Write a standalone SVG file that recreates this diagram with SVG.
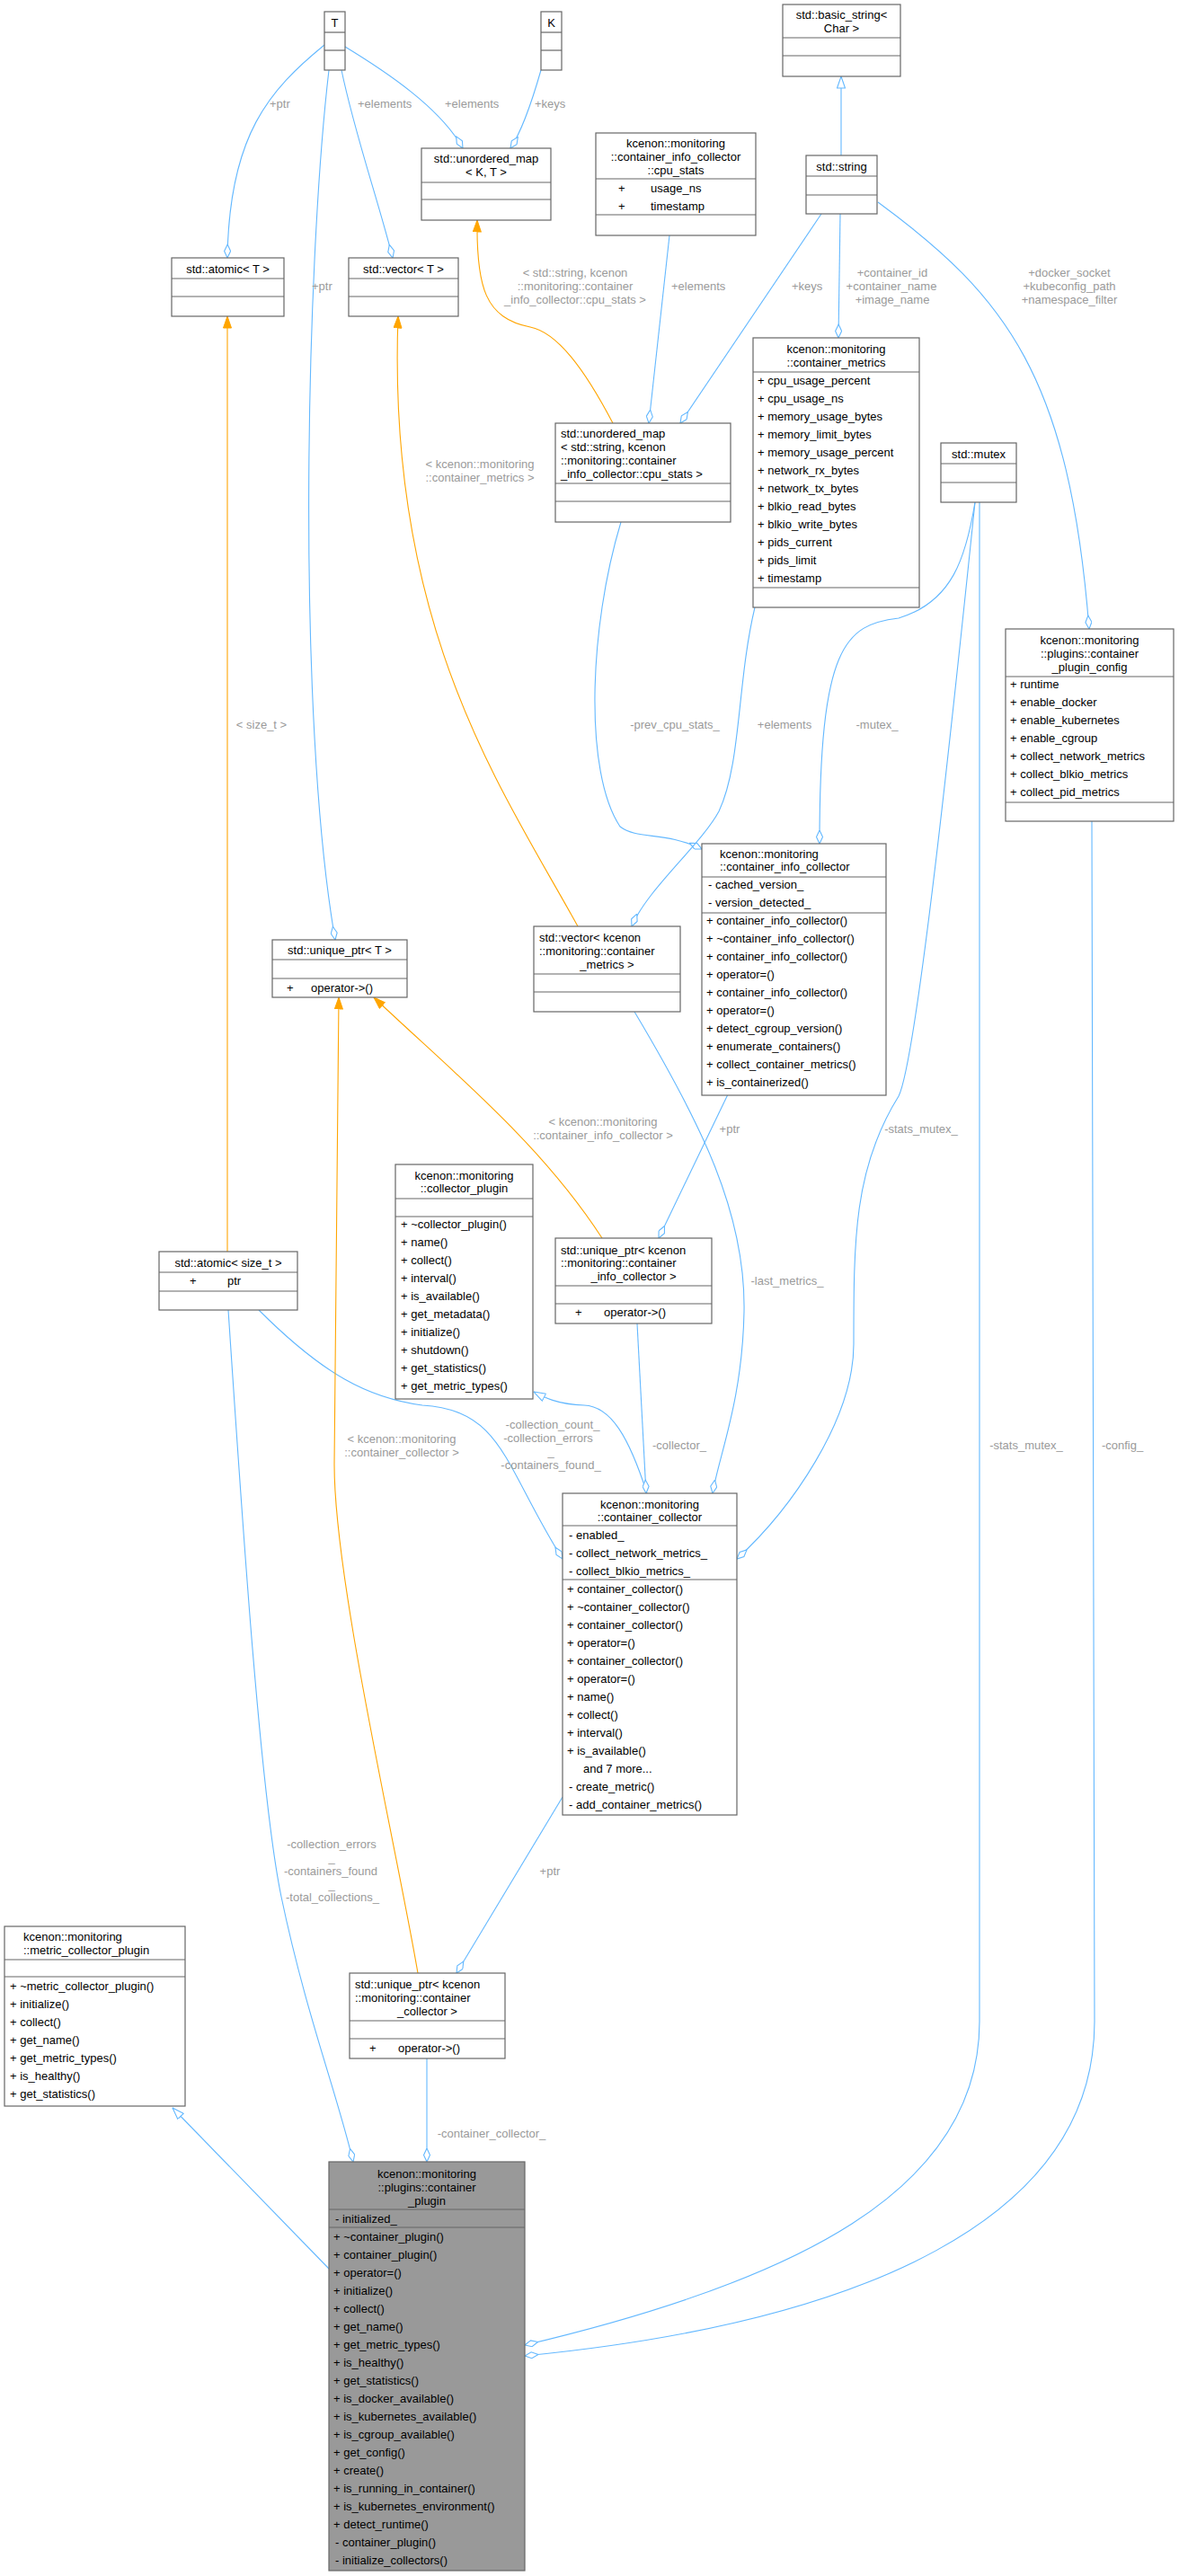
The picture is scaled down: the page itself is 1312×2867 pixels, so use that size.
<svg xmlns="http://www.w3.org/2000/svg" width="1312" height="2867" viewBox="0 0 1312 2867">
<style>
.n rect{fill:#fff;stroke:#666;stroke-width:1.2}
.n line{stroke:#666;stroke-width:1.2}
.n text{font-family:"Liberation Sans",Arial,sans-serif;font-size:13px;fill:#000}
.c{text-anchor:middle}
.e{fill:none;stroke:#63b8ff;stroke-width:1.1}
.o{fill:none;stroke:#ffa500;stroke-width:1.1}
.l{font-family:"Liberation Sans",Arial,sans-serif;font-size:13px;fill:#9a9a9a}
</style>
<defs>
<marker id="dia" viewBox="0 0 16 8" refX="15.5" refY="4" markerWidth="16" markerHeight="8" markerUnits="userSpaceOnUse" orient="auto"><path d="M0.5,4 L8,0.5 L15.5,4 L8,7.5 Z" fill="#fff" stroke="#63b8ff" stroke-width="1.1"/></marker>
<marker id="inh" viewBox="0 0 14 10" refX="13.5" refY="5" markerWidth="14" markerHeight="10" markerUnits="userSpaceOnUse" orient="auto"><path d="M0.5,0.5 L13.5,5 L0.5,9.5 Z" fill="#fff" stroke="#63b8ff" stroke-width="1.1"/></marker>
<marker id="tpl" viewBox="0 0 14 10" refX="13.5" refY="5" markerWidth="14" markerHeight="10" markerUnits="userSpaceOnUse" orient="auto"><path d="M0.5,0.5 L13.5,5 L0.5,9.5 Z" fill="#ffa500" stroke="#ffa500"/></marker>
</defs>
<g id="edges">
<path class="e" d="M361,50 C300,100 255,150 253,287" marker-end="url(#dia)"/>
<text class="l" x="300" y="120">+ptr</text>
<path class="e" d="M366,78 C340,300 330,800 373,1046" marker-end="url(#dia)"/>
<text class="l" x="347" y="323">+ptr</text>
<path class="e" d="M380,78 C395,150 420,220 437,287" marker-end="url(#dia)"/>
<text class="l" x="398" y="120">+elements</text>
<path class="e" d="M384,52 C430,80 490,120 515,165" marker-end="url(#dia)"/>
<text class="l" x="495" y="120">+elements</text>
<path class="e" d="M602,78 C590,120 578,150 568,165" marker-end="url(#dia)"/>
<text class="l" x="595" y="120">+keys</text>
<path class="e" d="M936,173 L936,85" marker-end="url(#inh)"/>
<path class="e" d="M745,262 L722,471" marker-end="url(#dia)"/>
<text class="l" x="747" y="323">+elements</text>
<path class="e" d="M914,238 L757,471" marker-end="url(#dia)"/>
<text class="l" x="881" y="323">+keys</text>
<path class="e" d="M935,238 L933,376" marker-end="url(#dia)"/>
<text class="l" x="993" y="308" text-anchor="middle">+container_id</text>
<text class="l" x="992" y="323" text-anchor="middle">+container_name</text>
<text class="l" x="993" y="338" text-anchor="middle">+image_name</text>
<path class="e" d="M977,225 C1120,330 1190,420 1212,700" marker-end="url(#dia)"/>
<text class="l" x="1190" y="308" text-anchor="middle">+docker_socket</text>
<text class="l" x="1190" y="323" text-anchor="middle">+kubeconfig_path</text>
<text class="l" x="1190" y="338" text-anchor="middle">+namespace_filter</text>
<path class="o" d="M682,471 C650,410 620,370 590,364 C540,354 530,320 531,245" marker-end="url(#tpl)"/>
<text class="l" x="640" y="308" text-anchor="middle">&lt; std::string, kcenon</text>
<text class="l" x="640" y="323" text-anchor="middle">::monitoring::container</text>
<text class="l" x="640" y="338" text-anchor="middle">_info_collector::cpu_stats &gt;</text>
<path class="o" d="M643,1031 C560,880 430,700 443,352" marker-end="url(#tpl)"/>
<text class="l" x="534" y="521" text-anchor="middle">&lt; kcenon::monitoring</text>
<text class="l" x="534" y="536" text-anchor="middle">::container_metrics &gt;</text>
<path class="o" d="M253,1393 L253,352" marker-end="url(#tpl)"/>
<text class="l" x="291" y="811" text-anchor="middle">&lt; size_t &gt;</text>
<path class="e" d="M691,581 C655,700 650,860 690,920 C710,935 740,925 781,945" marker-end="url(#dia)"/>
<text class="l" x="751" y="811" text-anchor="middle">-prev_cpu_stats_</text>
<path class="e" d="M840,676 C820,760 825,850 800,903 C780,940 720,990 703,1031" marker-end="url(#dia)"/>
<text class="l" x="873" y="811" text-anchor="middle">+elements</text>
<path class="e" d="M1085,559 C1075,620 1060,670 1000,688 C940,695 912,720 912,939" marker-end="url(#dia)"/>
<text class="l" x="976" y="811" text-anchor="middle">-mutex_</text>
<path class="e" d="M810,1218 L733,1378" marker-end="url(#dia)"/>
<text class="l" x="812" y="1261" text-anchor="middle">+ptr</text>
<path class="o" d="M670,1378 C600,1270 500,1190 416,1110" marker-end="url(#tpl)"/>
<text class="l" x="671" y="1253" text-anchor="middle">&lt; kcenon::monitoring</text>
<text class="l" x="671" y="1268" text-anchor="middle">::container_info_collector &gt;</text>
<path class="e" d="M706,1126 C780,1250 830,1350 828,1460 C826,1560 800,1620 793,1662" marker-end="url(#dia)"/>
<text class="l" x="876" y="1430" text-anchor="middle">-last_metrics_</text>
<path class="e" d="M1085,559 C1060,800 1020,1180 1000,1220 C950,1300 950,1380 950,1496 C950,1580 880,1680 820,1735" marker-end="url(#dia)"/>
<text class="l" x="1025" y="1261" text-anchor="middle">-stats_mutex_</text>
<path class="e" d="M720,1662 C700,1600 680,1565 650,1564 C620,1563 605,1555 594,1549" marker-end="url(#inh)"/>
<path class="e" d="M709,1473 L719,1662" marker-end="url(#dia)"/>
<text class="l" x="756" y="1613" text-anchor="middle">-collector_</text>
<path class="e" d="M288,1458 C360,1530 410,1556 470,1564 C560,1570 560,1630 626,1735" marker-end="url(#dia)"/>
<text class="l" x="615" y="1590" text-anchor="middle">-collection_count_</text>
<text class="l" x="610" y="1605" text-anchor="middle">-collection_errors</text>
<text class="l" x="613" y="1620" text-anchor="middle">_</text>
<text class="l" x="613" y="1635" text-anchor="middle">-containers_found_</text>
<path class="e" d="M1090,559 L1090,2250 C1090,2440 880,2540 584,2610" marker-end="url(#dia)"/>
<text class="l" x="1142" y="1613" text-anchor="middle">-stats_mutex_</text>
<path class="e" d="M1215,914 L1218,2250 C1218,2470 960,2585 584,2622" marker-end="url(#dia)"/>
<text class="l" x="1249" y="1613" text-anchor="middle">-config_</text>
<path class="e" d="M626,2000 L508,2196" marker-end="url(#dia)"/>
<text class="l" x="612" y="2087" text-anchor="middle">+ptr</text>
<path class="o" d="M465,2196 C440,2050 372,1760 372,1630 L377,1110" marker-end="url(#tpl)"/>
<text class="l" x="447" y="1606" text-anchor="middle">&lt; kcenon::monitoring</text>
<text class="l" x="447" y="1621" text-anchor="middle">::container_collector &gt;</text>
<path class="e" d="M254,1458 C270,1700 290,2000 313,2111 C340,2240 375,2330 393,2406" marker-end="url(#dia)"/>
<text class="l" x="369" y="2057" text-anchor="middle">-collection_errors</text>
<text class="l" x="369" y="2072" text-anchor="middle">_</text>
<text class="l" x="368" y="2087" text-anchor="middle">-containers_found</text>
<text class="l" x="369" y="2102" text-anchor="middle">_</text>
<text class="l" x="370" y="2116" text-anchor="middle">-total_collections_</text>
<path class="e" d="M475,2291 L475,2406" marker-end="url(#dia)"/>
<text class="l" x="547" y="2379" text-anchor="middle">-container_collector_</text>
<path class="e" d="M366,2525 L192,2346" marker-end="url(#inh)"/>
</g>
<g id="T" class="n"><rect x="361" y="13" width="23" height="65"/><line x1="361" y1="36" x2="384" y2="36"/><line x1="361" y1="56" x2="384" y2="56"/><text class="c" x="372.5" y="30">T</text></g>
<g id="K" class="n"><rect x="602" y="13" width="23" height="65"/><line x1="602" y1="36" x2="625" y2="36"/><line x1="602" y1="56" x2="625" y2="56"/><text class="c" x="613.5" y="30">K</text></g>
<g id="basic_string" class="n"><rect x="871" y="5" width="131" height="80"/><line x1="871" y1="42" x2="1002" y2="42"/><line x1="871" y1="62" x2="1002" y2="62"/><text class="c" x="936.5" y="21">std::basic_string&lt;</text><text class="c" x="936.5" y="36">Char &gt;</text></g>
<g id="umap_KT" class="n"><rect x="469" y="165" width="144" height="80"/><line x1="469" y1="203" x2="613" y2="203"/><line x1="469" y1="222" x2="613" y2="222"/><text class="c" x="541" y="181">std::unordered_map</text><text class="c" x="541" y="196">&lt; K, T &gt;</text></g>
<g id="cpu_stats" class="n"><rect x="663" y="148" width="178" height="114"/><line x1="663" y1="199" x2="841" y2="199"/><line x1="663" y1="239" x2="841" y2="239"/><text class="c" x="752" y="164">kcenon::monitoring</text><text class="c" x="752" y="179">::container_info_collector</text><text class="c" x="752" y="194">::cpu_stats</text><text x="688" y="214">+</text><text x="724" y="214">usage_ns</text><text x="688" y="234">+</text><text x="724" y="234">timestamp</text></g>
<g id="string" class="n"><rect x="897" y="173" width="79" height="65"/><line x1="897" y1="196" x2="976" y2="196"/><line x1="897" y1="217" x2="976" y2="217"/><text class="c" x="936.5" y="190">std::string</text></g>
<g id="atomic_T" class="n"><rect x="191" y="287" width="125" height="65"/><line x1="191" y1="310" x2="316" y2="310"/><line x1="191" y1="330" x2="316" y2="330"/><text class="c" x="253.5" y="304">std::atomic&lt; T &gt;</text></g>
<g id="vector_T" class="n"><rect x="388" y="287" width="122" height="65"/><line x1="388" y1="310" x2="510" y2="310"/><line x1="388" y1="330" x2="510" y2="330"/><text class="c" x="449" y="304">std::vector&lt; T &gt;</text></g>
<g id="umap_str" class="n"><rect x="618" y="471" width="195" height="110"/><line x1="618" y1="538" x2="813" y2="538"/><line x1="618" y1="558" x2="813" y2="558"/><text x="624" y="487">std::unordered_map</text><text x="624" y="502">&lt; std::string, kcenon</text><text x="624" y="517">::monitoring::container</text><text x="624" y="532">_info_collector::cpu_stats &gt;</text></g>
<g id="container_metrics" class="n"><rect x="838" y="376" width="185" height="300"/><line x1="838" y1="414" x2="1023" y2="414"/><line x1="838" y1="654" x2="1023" y2="654"/><text class="c" x="930.5" y="393">kcenon::monitoring</text><text class="c" x="930.5" y="408">::container_metrics</text>
<text x="843" y="428">+  cpu_usage_percent</text><text x="843" y="448">+  cpu_usage_ns</text><text x="843" y="468">+  memory_usage_bytes</text><text x="843" y="488">+  memory_limit_bytes</text><text x="843" y="508">+  memory_usage_percent</text><text x="843" y="528">+  network_rx_bytes</text><text x="843" y="548">+  network_tx_bytes</text><text x="843" y="568">+  blkio_read_bytes</text><text x="843" y="588">+  blkio_write_bytes</text><text x="843" y="608">+  pids_current</text><text x="843" y="628">+  pids_limit</text><text x="843" y="648">+  timestamp</text></g>
<g id="mutex" class="n"><rect x="1047" y="493" width="84" height="66"/><line x1="1047" y1="516" x2="1131" y2="516"/><line x1="1047" y1="537" x2="1131" y2="537"/><text class="c" x="1089" y="510">std::mutex</text></g>
<g id="plugin_config" class="n"><rect x="1119" y="700" width="187" height="214"/><line x1="1119" y1="753" x2="1306" y2="753"/><line x1="1119" y1="893" x2="1306" y2="893"/><text class="c" x="1212.5" y="717">kcenon::monitoring</text><text class="c" x="1212.5" y="732">::plugins::container</text><text class="c" x="1212.5" y="747">_plugin_config</text>
<text x="1124" y="766">+  runtime</text><text x="1124" y="786">+  enable_docker</text><text x="1124" y="806">+  enable_kubernetes</text><text x="1124" y="826">+  enable_cgroup</text><text x="1124" y="846">+  collect_network_metrics</text><text x="1124" y="866">+  collect_blkio_metrics</text><text x="1124" y="886">+  collect_pid_metrics</text></g>
<g id="container_info_collector" class="n"><rect x="781" y="939" width="205" height="280"/><line x1="781" y1="976" x2="986" y2="976"/><line x1="781" y1="1016" x2="986" y2="1016"/><text x="801" y="955">kcenon::monitoring</text><text x="801" y="969">::container_info_collector</text>
<text x="788" y="989">-   cached_version_</text><text x="788" y="1009">-   version_detected_</text>
<text x="786" y="1029">+  container_info_collector()</text><text x="786" y="1049">+  ~container_info_collector()</text><text x="786" y="1069">+  container_info_collector()</text><text x="786" y="1089">+  operator=()</text><text x="786" y="1109">+  container_info_collector()</text><text x="786" y="1129">+  operator=()</text><text x="786" y="1149">+  detect_cgroup_version()</text><text x="786" y="1169">+  enumerate_containers()</text><text x="786" y="1189">+  collect_container_metrics()</text><text x="786" y="1209">+  is_containerized()</text></g>
<g id="unique_ptr_T" class="n"><rect x="303" y="1046" width="150" height="64"/><line x1="303" y1="1068" x2="453" y2="1068"/><line x1="303" y1="1089" x2="453" y2="1089"/><text class="c" x="378" y="1062">std::unique_ptr&lt; T &gt;</text><text x="319" y="1104">+</text><text x="346" y="1104">operator-&gt;()</text></g>
<g id="vector_metrics" class="n"><rect x="594" y="1031" width="163" height="95"/><line x1="594" y1="1084" x2="757" y2="1084"/><line x1="594" y1="1104" x2="757" y2="1104"/><text x="600" y="1048">std::vector&lt; kcenon</text><text x="600" y="1063">::monitoring::container</text><text class="c" x="675.5" y="1078">_metrics &gt;</text></g>
<g id="collector_plugin" class="n"><rect x="440" y="1296" width="153" height="261"/><line x1="440" y1="1334" x2="593" y2="1334"/><line x1="440" y1="1354" x2="593" y2="1354"/><text class="c" x="516.5" y="1313">kcenon::monitoring</text><text class="c" x="516.5" y="1327">::collector_plugin</text>
<text x="446" y="1367">+  ~collector_plugin()</text><text x="446" y="1387">+  name()</text><text x="446" y="1407">+  collect()</text><text x="446" y="1427">+  interval()</text><text x="446" y="1447">+  is_available()</text><text x="446" y="1467">+  get_metadata()</text><text x="446" y="1487">+  initialize()</text><text x="446" y="1507">+  shutdown()</text><text x="446" y="1527">+  get_statistics()</text><text x="446" y="1547">+  get_metric_types()</text></g>
<g id="unique_ptr_info" class="n"><rect x="618" y="1378" width="174" height="95"/><line x1="618" y1="1431" x2="792" y2="1431"/><line x1="618" y1="1451" x2="792" y2="1451"/><text x="624" y="1396">std::unique_ptr&lt; kcenon</text><text x="624" y="1410">::monitoring::container</text><text class="c" x="705" y="1425">_info_collector &gt;</text><text x="640" y="1465">+</text><text x="672" y="1465">operator-&gt;()</text></g>
<g id="atomic_size_t" class="n"><rect x="177" y="1393" width="154" height="65"/><line x1="177" y1="1416" x2="331" y2="1416"/><line x1="177" y1="1437" x2="331" y2="1437"/><text class="c" x="254" y="1410">std::atomic&lt; size_t &gt;</text><text x="211" y="1430">+</text><text x="253" y="1430">ptr</text></g>
<g id="container_collector" class="n"><rect x="626" y="1662" width="194" height="358"/><line x1="626" y1="1698" x2="820" y2="1698"/><line x1="626" y1="1758" x2="820" y2="1758"/><text class="c" x="723" y="1679">kcenon::monitoring</text><text class="c" x="723" y="1693">::container_collector</text>
<text x="633" y="1713">-   enabled_</text><text x="633" y="1733">-   collect_network_metrics_</text><text x="633" y="1753">-   collect_blkio_metrics_</text>
<text x="631" y="1773">+  container_collector()</text><text x="631" y="1793">+  ~container_collector()</text><text x="631" y="1813">+  container_collector()</text><text x="631" y="1833">+  operator=()</text><text x="631" y="1853">+  container_collector()</text><text x="631" y="1873">+  operator=()</text><text x="631" y="1893">+  name()</text><text x="631" y="1913">+  collect()</text><text x="631" y="1933">+  interval()</text><text x="631" y="1953">+  is_available()</text><text x="649" y="1973">and 7 more...</text><text x="633" y="1993">-   create_metric()</text><text x="633" y="2013">-   add_container_metrics()</text></g>
<g id="metric_collector_plugin" class="n"><rect x="5" y="2144" width="201" height="200"/><line x1="5" y1="2181" x2="206" y2="2181"/><line x1="5" y1="2200" x2="206" y2="2200"/><text x="26" y="2160">kcenon::monitoring</text><text x="26" y="2175">::metric_collector_plugin</text>
<text x="11" y="2215">+  ~metric_collector_plugin()</text><text x="11" y="2235">+  initialize()</text><text x="11" y="2255">+  collect()</text><text x="11" y="2275">+  get_name()</text><text x="11" y="2295">+  get_metric_types()</text><text x="11" y="2315">+  is_healthy()</text><text x="11" y="2335">+  get_statistics()</text></g>
<g id="unique_ptr_collector" class="n"><rect x="389" y="2196" width="173" height="95"/><line x1="389" y1="2249" x2="562" y2="2249"/><line x1="389" y1="2269" x2="562" y2="2269"/><text x="395" y="2213">std::unique_ptr&lt; kcenon</text><text x="395" y="2228">::monitoring::container</text><text class="c" x="475.5" y="2243">_collector &gt;</text><text x="411" y="2284">+</text><text x="443" y="2284">operator-&gt;()</text></g>
<g id="container_plugin" class="n"><rect x="366" y="2406" width="218" height="455" style="fill:#999"/><line x1="366" y1="2459" x2="584" y2="2459"/><line x1="366" y1="2479" x2="584" y2="2479"/><text class="c" x="475" y="2424">kcenon::monitoring</text><text class="c" x="475" y="2439">::plugins::container</text><text class="c" x="475" y="2454">_plugin</text>
<text x="373" y="2474">-   initialized_</text>
<text x="371" y="2494">+  ~container_plugin()</text><text x="371" y="2514">+  container_plugin()</text><text x="371" y="2534">+  operator=()</text><text x="371" y="2554">+  initialize()</text><text x="371" y="2574">+  collect()</text><text x="371" y="2594">+  get_name()</text><text x="371" y="2614">+  get_metric_types()</text><text x="371" y="2634">+  is_healthy()</text><text x="371" y="2654">+  get_statistics()</text><text x="371" y="2674">+  is_docker_available()</text><text x="371" y="2694">+  is_kubernetes_available()</text><text x="371" y="2714">+  is_cgroup_available()</text><text x="371" y="2734">+  get_config()</text><text x="371" y="2754">+  create()</text><text x="371" y="2774">+  is_running_in_container()</text><text x="371" y="2794">+  is_kubernetes_environment()</text><text x="371" y="2814">+  detect_runtime()</text><text x="373" y="2834">-   container_plugin()</text><text x="373" y="2854">-   initialize_collectors()</text></g>
</svg>
